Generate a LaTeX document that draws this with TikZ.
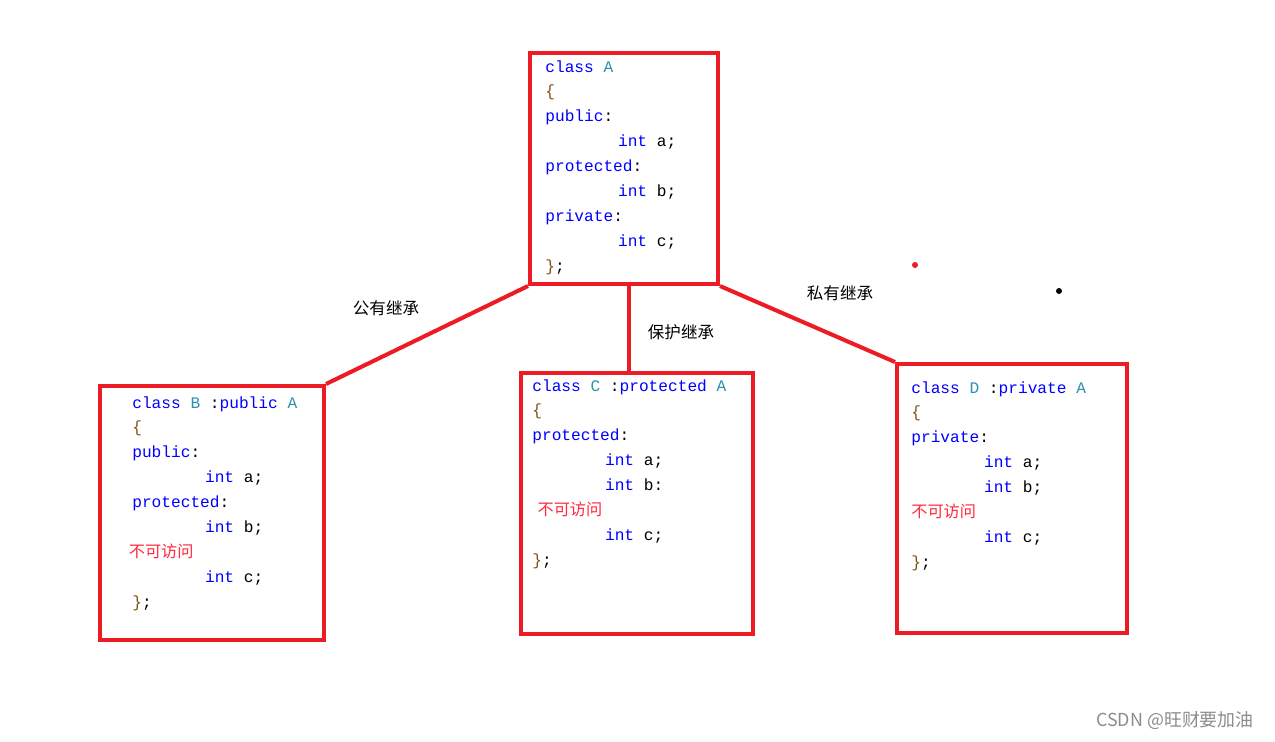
\documentclass[tikz,border=0pt]{standalone}
\usepackage{fontspec}
\setmonofont{Liberation Mono}
\newfontfamily\cjk{Noto Sans CJK SC}
\usetikzlibrary{positioning}

\definecolor{boxred}{RGB}{237,28,36}
\definecolor{kwblue}{RGB}{0,0,255}
\definecolor{clsteal}{RGB}{43,145,175}
\definecolor{punct}{RGB}{128,80,20}
\definecolor{noaccess}{RGB}{255,40,60}

\newcommand{\kw}[1]{\textcolor{kwblue}{#1}}
\newcommand{\cls}[1]{\textcolor{clsteal}{#1}}
\newcommand{\pn}[1]{\textcolor{punct}{#1}}
\newcommand{\tabin}{\hspace*{41.4pt}}
\newcommand{\noacc}{{\cjk\textcolor{noaccess}{不可访问}}}

\begin{document}
\begin{tikzpicture}[
  x=0.02cm, y=-0.02cm,
  classbox/.style={draw=boxred, line width=2.3pt, rectangle, inner sep=0pt},
  code/.style={anchor=north west, inner sep=0pt, align=left,
    font=\ttfamily\fontsize{9.2pt}{14.17pt}\selectfont},
  link/.style={draw=boxred, line width=2.3pt},
  kind/.style={font=\cjk\fontsize{9.4pt}{11pt}\selectfont, text=black}
]
\useasboundingbox (0,0) rectangle (1275,741);

% boxes
\node[classbox, minimum width=3.76cm, minimum height=4.62cm] (A) at (624,168.5) {};
\node[classbox, minimum width=4.48cm, minimum height=5.08cm] (B) at (212,513) {};
\node[classbox, minimum width=4.64cm, minimum height=5.22cm] (C) at (637,503.5) {};
\node[classbox, minimum width=4.60cm, minimum height=5.38cm] (D) at (1012,498.5) {};

% code
\node[code] (codeA) at (545,60) {\kw{class} \cls{A}\\ \pn{\{}\\ \kw{public}:\\
  \tabin\kw{int} a;\\ \kw{protected}:\\ \tabin\kw{int} b;\\ \kw{private}:\\
  \tabin\kw{int} c;\\ \pn{\}};};
\node[code] (codeB) at (132,396) {\kw{class} \cls{B} :\kw{public} \cls{A}\\ \pn{\{}\\ \kw{public}:\\
  \tabin\kw{int} a;\\ \kw{protected}:\\ \tabin\kw{int} b;\\ \hspace*{-2pt}\noacc\\
  \tabin\kw{int} c;\\ \pn{\}};};
\node[code] (codeC) at (532,379) {\kw{class} \cls{C} :\kw{protected} \cls{A}\\ \pn{\{}\\ \kw{protected}:\\
  \tabin\kw{int} a;\\ \tabin\kw{int} b:\\ \hspace*{3pt}\noacc\\
  \tabin\kw{int} c;\\ \pn{\}};};
\node[code] (codeD) at (911,381) {\kw{class} \cls{D} :\kw{private} \cls{A}\\ \pn{\{}\\ \kw{private}:\\
  \tabin\kw{int} a;\\ \tabin\kw{int} b;\\ \noacc\\
  \tabin\kw{int} c;\\ \pn{\}};};

% inheritance links
\draw[link] (B.north east) -- (A.south west);
\draw[link] ([xshift=0.1cm]A.south) -- ([xshift=0.1cm]A.south |- C.north);
\draw[link] (A.south east) -- (D.north west);

\node[kind] (pub) at (386,308) {公有继承};
\node[kind] (pro) at (681,332) {保护继承};
\node[kind] (pri) at (840,293) {私有继承};

% stray dots
\fill[boxred] (915,265) circle (3);
\fill[black] (1059,291) circle (3);

\node[font=\fontsize{10.2pt}{12pt}\selectfont\cjk, text=black!45] (mark) at (1175,721) {CSDN @旺财要加油};
\end{tikzpicture}
\end{document}
